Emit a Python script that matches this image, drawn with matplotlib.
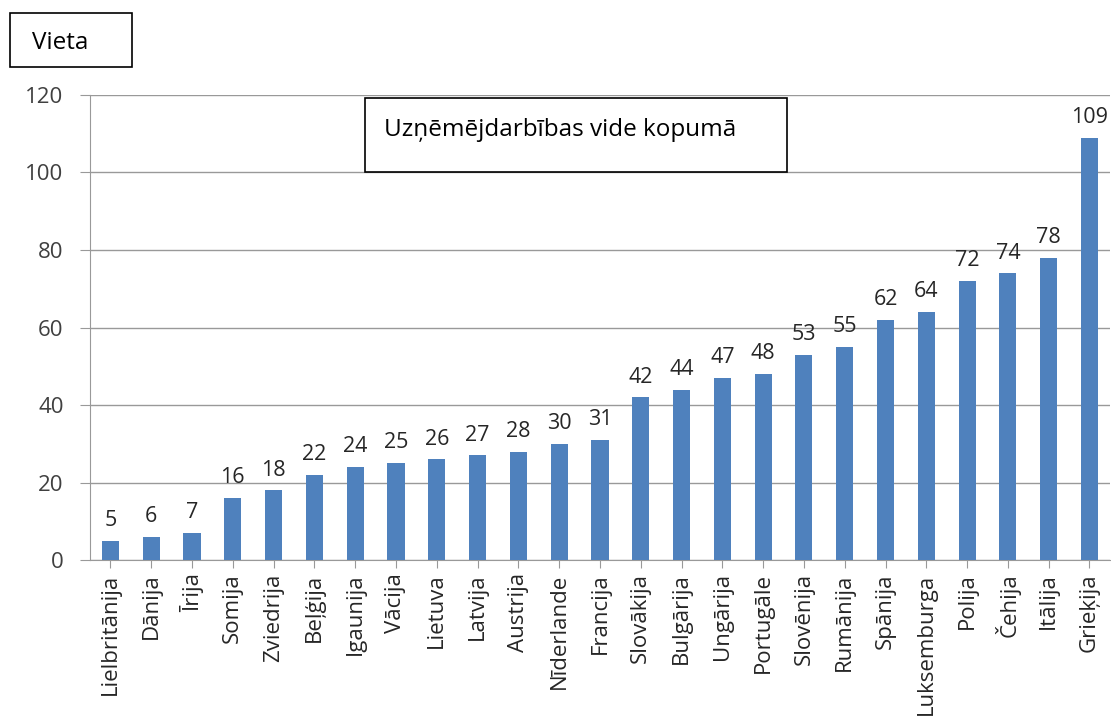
import matplotlib.pyplot as plt
from matplotlib.patches import Rectangle

countries = ['Lielbritānija', 'Dānija', 'Īrija', 'Somija', 'Zviedrija', 'Beļģija',
             'Igaunija', 'Vācija', 'Lietuva', 'Latvija', 'Austrija', 'Nīderlande',
             'Francija', 'Slovākija', 'Bulgārija', 'Ungārija', 'Portugāle', 'Slovēnija',
             'Rumānija', 'Spānija', 'Luksemburga', 'Polija', 'Čehija', 'Itālija', 'Grieķija']
rank = [5, 6, 7, 16, 18, 22, 24, 25, 26, 27, 28, 30, 31, 42, 44, 47, 48, 53,
        55, 62, 64, 72, 74, 78, 109]
yticks = [0, 20, 40, 60, 80, 100, 120]

plt.rcParams['font.family'] = ['Open Sans', 'DejaVu Sans']

fig = plt.figure(figsize=(11.11, 7.19), dpi=100)
ax = fig.add_axes([0.081, 0.221, 0.918, 0.647])

x = range(len(countries))
ax.bar(x, rank, width=0.42, color='#4F81BD', zorder=3)
for i, v in zip(x, rank):
    ax.text(i, v + 2.5, str(v), ha='center', va='bottom', fontsize=15.5, color='#262626')

ax.set_xlim(-0.5, len(countries) - 0.5)
ax.set_ylim(0, 120)
ax.set_yticks(yticks)
ax.set_xticks(list(x))
ax.set_xticklabels(countries, rotation=90, fontsize=16, color='#262626')
ax.tick_params(axis='y', labelsize=16, labelcolor='#404040', length=7, color='#999999', pad=12)
ax.tick_params(axis='x', length=6, color='#999999')
ax.grid(axis='y', color='#999999', linewidth=1, zorder=0)
for s in ['top', 'right']:
    ax.spines[s].set_visible(False)
ax.spines['left'].set_color('#999999')
ax.spines['bottom'].set_color('#999999')

# text boxes
fig.patches.append(Rectangle((10 / 1111, 1 - 67 / 719), 122 / 1111, 54 / 719,
                             transform=fig.transFigure, fill=False, edgecolor='black', linewidth=1.2))
fig.text(32 / 1111, 1 - 43 / 719, 'Vieta', fontsize=17.5, va='center')
fig.patches.append(Rectangle((365 / 1111, 1 - 172 / 719), 422 / 1111, 74 / 719,
                             transform=fig.transFigure, fill=True, edgecolor='black',
                             facecolor='white', linewidth=1.2, zorder=5))
fig.text(384 / 1111, 1 - 130 / 719, 'Uzņēmējdarbības vide kopumā', fontsize=17.5,
         va='center', zorder=6)

fig.savefig('out.png', dpi=100)
